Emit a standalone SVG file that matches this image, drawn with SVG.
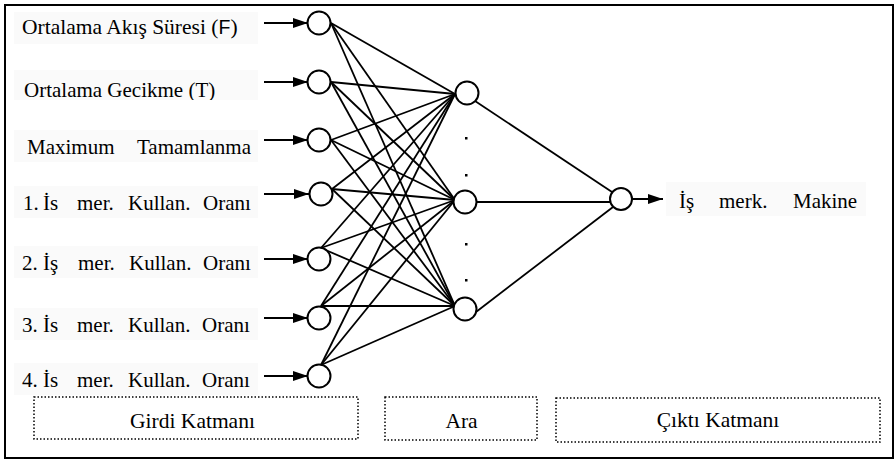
<svg xmlns="http://www.w3.org/2000/svg" width="895" height="459" viewBox="0 0 895 459">
<defs>
<style>
.t{font-family:"Liberation Serif","Times New Roman",serif;font-size:21px;fill:#000}
.t1{font-family:"Liberation Serif","Times New Roman",serif;font-size:21.5px;fill:#000}
.lbl{font-family:"Liberation Serif","Times New Roman",serif;font-size:21.5px;fill:#000;text-anchor:middle}
.sans{font-family:"Liberation Sans",Arial,sans-serif;font-size:19.5px}
.bg{fill:#fafafa;stroke:none}
.node{fill:#fff;stroke:#000;stroke-width:2}
.edge{stroke:#000;stroke-width:1.8;fill:none}
.box{fill:none;stroke:#000;stroke-width:1.5;stroke-dasharray:1.5 2}
.arr{stroke:#000;stroke-width:2;fill:none}
</style>
<marker id="ah" viewBox="0 0 15 10" refX="15" refY="5" markerWidth="15" markerHeight="10" markerUnits="userSpaceOnUse" orient="auto">
<path d="M0,0 L15,5 L0,10 Z" fill="#000"/>
</marker>
<clipPath id="clip2"><rect x="10" y="66" width="250" height="34"/></clipPath>
</defs>
<rect x="5" y="5" width="888" height="453" fill="#fff" stroke="#000" stroke-width="2"/>

<g id="connectors">
<line class="edge" x1="331" y1="23" x2="455" y2="94"/>
<line class="edge" x1="331" y1="23" x2="455" y2="200"/>
<line class="edge" x1="331" y1="23" x2="455" y2="306"/>
<line class="edge" x1="331" y1="82" x2="455" y2="94"/>
<line class="edge" x1="331" y1="82" x2="455" y2="200"/>
<line class="edge" x1="331" y1="82" x2="455" y2="306"/>
<line class="edge" x1="331" y1="140" x2="455" y2="94"/>
<line class="edge" x1="331" y1="140" x2="455" y2="200"/>
<line class="edge" x1="331" y1="140" x2="455" y2="306"/>
<line class="edge" x1="332" y1="189" x2="455" y2="94"/>
<line class="edge" x1="332" y1="189" x2="455" y2="200"/>
<line class="edge" x1="332" y1="189" x2="455" y2="306"/>
<line class="edge" x1="321" y1="248" x2="455" y2="94"/>
<line class="edge" x1="321" y1="248" x2="455" y2="200"/>
<line class="edge" x1="321" y1="248" x2="455" y2="306"/>
<line class="edge" x1="321" y1="306" x2="455" y2="94"/>
<line class="edge" x1="321" y1="306" x2="455" y2="200"/>
<line class="edge" x1="321" y1="306" x2="455" y2="306"/>
<line class="edge" x1="321" y1="365" x2="455" y2="94"/>
<line class="edge" x1="321" y1="365" x2="455" y2="200"/>
<line class="edge" x1="321" y1="365" x2="455" y2="306"/>
<line class="edge" x1="472" y1="99" x2="612" y2="192"/>
<line class="edge" x1="476" y1="202" x2="610" y2="202"/>
<line class="edge" x1="476" y1="312" x2="613" y2="207"/>
<line class="arr" x1="264" y1="23" x2="308" y2="23" marker-end="url(#ah)"/>
<line class="arr" x1="264" y1="82" x2="308" y2="82" marker-end="url(#ah)"/>
<line class="arr" x1="264" y1="140" x2="308" y2="140" marker-end="url(#ah)"/>
<line class="arr" x1="264" y1="194" x2="309" y2="194" marker-end="url(#ah)"/>
<line class="arr" x1="264" y1="259" x2="308" y2="259" marker-end="url(#ah)"/>
<line class="arr" x1="264" y1="318" x2="308" y2="318" marker-end="url(#ah)"/>
<line class="arr" x1="264" y1="376" x2="308" y2="376" marker-end="url(#ah)"/>
<line class="arr" x1="632" y1="199" x2="663" y2="199" marker-end="url(#ah)"/>
</g>

<g id="in1"><rect class="bg" x="14" y="12" width="244" height="32"/><text class="t1" x="22" y="34">Ortalama Akış Süresi (<tspan class="sans">F</tspan>)</text><circle class="node" cx="319" cy="23" r="11.5"/></g>
<g id="in2"><rect class="bg" x="14" y="70" width="244" height="30"/><text class="t" x="24" y="97" clip-path="url(#clip2)">Ortalama Gecikme (T)</text><circle class="node" cx="319" cy="82" r="11.5"/></g>
<g id="in3"><rect class="bg" x="14" y="130" width="244" height="32"/><text class="t" x="27" y="154">Maximum<tspan x="137">Tamamlanma</tspan></text><circle class="node" cx="319" cy="140" r="11.5"/></g>
<g id="in4"><rect class="bg" x="14" y="186" width="244" height="32"/><text class="t" x="23" y="210">1.<tspan x="43">İs</tspan><tspan x="77">mer.</tspan><tspan x="128">Kullan.</tspan><tspan x="203">Oranı</tspan></text><circle class="node" cx="321" cy="194" r="11.5"/></g>
<g id="in5"><rect class="bg" x="14" y="246" width="244" height="32"/><text class="t" x="22" y="270">2.<tspan x="43">İş</tspan><tspan x="78">mer.</tspan><tspan x="129">Kullan.</tspan><tspan x="203">Oranı</tspan></text><circle class="node" cx="319" cy="259" r="11.5"/></g>
<g id="in6"><rect class="bg" x="14" y="308" width="244" height="32"/><text class="t" x="22" y="332">3.<tspan x="43">İs</tspan><tspan x="77">mer.</tspan><tspan x="128">Kullan.</tspan><tspan x="202">Oranı</tspan></text><circle class="node" cx="319" cy="318" r="11.5"/></g>
<g id="in7"><rect class="bg" x="14" y="363" width="244" height="32"/><text class="t" x="22" y="387">4.<tspan x="43">İs</tspan><tspan x="77">mer.</tspan><tspan x="128">Kullan.</tspan><tspan x="202">Oranı</tspan></text><circle class="node" cx="319" cy="376" r="11.5"/></g>

<g id="h1"><circle class="node" cx="467" cy="93" r="11.5"/></g>
<g id="h2"><circle class="node" cx="465" cy="202" r="11.5"/></g>
<g id="h3"><circle class="node" cx="465" cy="309" r="11.5"/></g>
<g id="dots">
<rect x="465" y="137" width="2.5" height="2.5" fill="#000"/>
<rect x="465" y="174" width="2.5" height="2.5" fill="#000"/>
<rect x="465" y="243" width="2.5" height="2.5" fill="#000"/>
<rect x="465" y="279" width="2.5" height="2.5" fill="#000"/>
</g>

<g id="out"><circle class="node" cx="621" cy="199" r="11"/></g>
<g id="outlabel"><rect class="bg" x="666" y="182" width="200" height="34"/><text class="t" x="679" y="208">İş<tspan x="719">merk.</tspan><tspan x="793">Makine</tspan></text></g>

<g id="girdi"><rect class="box" x="34" y="397" width="324" height="42"/><text class="lbl" x="192.5" y="428">Girdi Katmanı</text></g>
<g id="ara"><rect class="box" x="385" y="397" width="152" height="43"/><text class="lbl" x="461.5" y="428">Ara</text></g>
<g id="cikti"><rect class="box" x="556" y="398" width="324" height="44"/><text class="lbl" x="718" y="427">Çıktı Katmanı</text></g>
</svg>
